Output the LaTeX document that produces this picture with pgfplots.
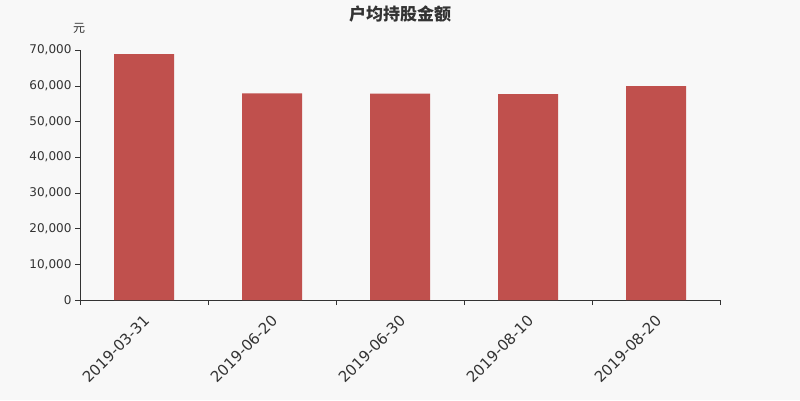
\documentclass[border=0pt]{standalone}
\usepackage{fontspec}
\setmainfont{DejaVu Sans}
\newfontfamily\cjk{Noto Sans CJK SC}
\usepackage{pgfplots}
\pgfplotsset{compat=1.18}
\definecolor{bg}{HTML}{F8F8F8}
\definecolor{barred}{HTML}{C0504D}
\definecolor{axisgray}{HTML}{333333}
\begin{document}
\begin{tikzpicture}[x=1pt,y=1pt]
\useasboundingbox (0,0) rectangle (800,400);
\fill[bg] (0,0) rectangle (800,400);
\node[font=\cjk\bfseries\fontsize{17}{19}\selectfont, text=axisgray] at (400,386) {户均持股金额};
\node[font=\cjk\fontsize{12}{14}\selectfont, text=axisgray] at (79,372) {元};
\begin{axis}[
  at={(80pt,100pt)}, anchor=south west,
  scale only axis, width=640pt, height=250pt,
  xmin=-0.5, xmax=4.5, ymin=0, ymax=70000,
  axis x line*=bottom, axis y line*=left,
  axis line style={axisgray, -},
  xtick={0,1,2,3,4},
  xticklabels={2019-03-31,2019-06-20,2019-06-30,2019-08-10,2019-08-20},
  minor xtick={-0.5,0.5,1.5,2.5,3.5,4.5},
  major x tick style={draw=none},
  minor x tick style={axisgray},
  minor tick length=5pt,
  ytick={0,10000,20000,30000,40000,50000,60000,70000},
  y tick style={axisgray},
  major tick length=5pt,
  tick align=outside,
  scaled y ticks=false,
  /pgf/number format/assume math mode=true,
  /pgf/number format/1000 sep={,},
  yticklabel style={font=\fontsize{12}{14}\selectfont, text=axisgray},
  xticklabel style={font=\fontsize{15}{17}\selectfont, text=axisgray, rotate=45, anchor=north east, xshift=-4pt, yshift=-2pt},
  ybar, bar width=60pt,
]
\addplot[fill=barred, draw=none] coordinates {(0,68880) (1,57870) (2,57820) (3,57680) (4,59900)};
\end{axis}
\end{tikzpicture}
\end{document}
